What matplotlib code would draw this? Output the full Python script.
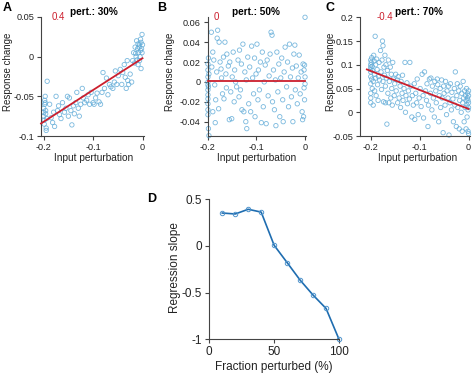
import numpy as np
import matplotlib
matplotlib.use('Agg')
from matplotlib import pyplot as plt

plt.rcParams['font.family'] = ['Liberation Sans', 'DejaVu Sans']
plt.rcParams['axes.unicode_minus'] = False

# panel A (30% perturbed)
a_x = [-0.2, -0.2, -0.2, -0.199, -0.199, -0.198, -0.198, -0.197, -0.197, -0.196, -0.196, -0.195, -0.195, -0.194,
       -0.193, -0.188, -0.185, -0.182, -0.18, -0.178, -0.175, -0.172, -0.17, -0.168, -0.165, -0.162,
       -0.158, -0.155, -0.152, -0.15, -0.148, -0.145, -0.143, -0.14, -0.138, -0.135, -0.133, -0.13, -0.128,
       -0.125, -0.122, -0.12, -0.117, -0.113, -0.11, -0.107, -0.104, -0.1,
       -0.098, -0.095, -0.092, -0.088, -0.085, -0.082, -0.08, -0.077, -0.073, -0.07,
       -0.067, -0.064, -0.06, -0.057, -0.055, -0.052, -0.049, -0.045, -0.042, -0.04,
       -0.037, -0.035, -0.033, -0.031, -0.03, -0.028, -0.025, -0.022, -0.02, -0.018,
       -0.015, -0.013, -0.012, -0.01, -0.009, -0.008, -0.007, -0.006, -0.005, -0.004, -0.003, -0.002,
       -0.001, 0.0, -0.003, -0.006, -0.011, -0.014, -0.016, -0.001, -0.004, -0.009]
a_y = [-0.065, -0.07, -0.075, -0.08, -0.085, -0.06, -0.055, -0.05, -0.058, -0.068, -0.072, -0.09, -0.093, -0.078,
       -0.031, -0.06, -0.077, -0.083, -0.07, -0.088, -0.05, -0.068, -0.062, -0.073, -0.078, -0.058,
       -0.07, -0.065, -0.05, -0.075, -0.052, -0.068, -0.086, -0.062, -0.072, -0.058, -0.045, -0.065, -0.075,
       -0.06, -0.04, -0.052, -0.058, -0.055, -0.048, -0.06, -0.045, -0.058,
       -0.06, -0.052, -0.046, -0.057, -0.06, -0.045, -0.02, -0.04, -0.027, -0.048,
       -0.035, -0.038, -0.04, -0.032, -0.018, -0.035, -0.024, -0.016, -0.035, -0.02,
       -0.01, -0.026, -0.04, -0.005, -0.03, -0.035, -0.022, -0.032, -0.005, 0.005,
       0.012, 0.0, 0.02, 0.01, -0.01, 0.005, 0.012, 0.015, 0.0, 0.008, 0.018, 0.01,
       0.028, 0.015, -0.015, -0.005, -0.004, 0.004, -0.008, 0.005, 0.022, 0.016]

# panel B (50% perturbed)
b_x = [-0.2, -0.2, -0.2, -0.2, -0.2, -0.2, -0.2, -0.2, -0.2, -0.2, -0.2, -0.199, -0.198, -0.199, -0.198, -0.199,
       -0.193, -0.19, -0.188, -0.192, -0.186, -0.19, -0.184, -0.181, -0.18, -0.182, -0.185,
       -0.177, -0.175, -0.173, -0.178, -0.172, -0.17, -0.168, -0.167, -0.165, -0.163, -0.162, -0.161,
       -0.158, -0.156, -0.155, -0.153, -0.151, -0.15, -0.148, -0.146, -0.145, -0.143, -0.141,
       -0.138, -0.136, -0.135, -0.133, -0.131, -0.13, -0.128, -0.126, -0.124, -0.122, -0.121, -0.12,
       -0.118, -0.116, -0.114, -0.112, -0.11, -0.108, -0.106, -0.104, -0.103, -0.101,
       -0.099, -0.097, -0.096, -0.094, -0.092, -0.09, -0.088, -0.086, -0.084, -0.082, -0.08,
       -0.078, -0.076, -0.074, -0.072, -0.07, -0.068, -0.067, -0.065, -0.063, -0.061, -0.06,
       -0.058, -0.056, -0.054, -0.052, -0.05, -0.048, -0.046, -0.045, -0.043, -0.041,
       -0.038, -0.036, -0.034, -0.032, -0.03, -0.028, -0.026, -0.025, -0.023, -0.021, -0.02,
       -0.018, -0.016, -0.014, -0.012, -0.01, -0.008, -0.006, -0.005, -0.004, -0.003, -0.002, -0.001,
       0.0, 0.0, -0.001, 0.0, -0.002]
b_y = [0.018, 0.012, 0.005, 0.0, -0.003, -0.008, -0.013, -0.017, -0.022, -0.028, -0.033, -0.047, -0.054, 0.024, 0.008, -0.005,
       0.05, 0.03, 0.022, 0.015, -0.003, -0.03, -0.018, 0.044, 0.052, 0.01, -0.041,
       0.04, 0.02, 0.013, -0.027, 0.004, -0.012, 0.025, -0.017, 0.04, 0.008, -0.006, 0.028,
       0.016, -0.038, 0.02, -0.01, -0.037, 0.005, 0.03, -0.02, 0.012, 0.0, -0.005,
       0.022, -0.015, 0.032, -0.008, 0.018, -0.028, 0.038, -0.03, 0.01, -0.04, 0.002, -0.047,
       0.025, -0.022, 0.015, -0.03, 0.036, 0.004, -0.012, 0.024, -0.035, 0.008,
       0.038, -0.018, 0.012, -0.008, 0.02, -0.041, 0.03, -0.025, 0.0, 0.017, -0.042,
       0.022, -0.014, 0.006, 0.028, 0.05, 0.047, -0.02, 0.012, -0.028, 0.002, -0.044,
       0.03, -0.01, 0.018, -0.035, 0.004, 0.024, -0.018, -0.04, 0.01, 0.035,
       -0.005, 0.02, -0.025, 0.038, 0.005, -0.015, 0.014, -0.04, 0.028, 0.037, -0.008,
       0.016, -0.022, 0.004, 0.027, -0.012, 0.01, -0.03, -0.038, 0.018, -0.035, 0.012, 0.017,
       0.065, -0.002, -0.018, 0.005, -0.006]

# panel C (70% perturbed)
c_x = [-0.2, -0.2, -0.2, -0.2, -0.2, -0.2, -0.2, -0.2, -0.2, -0.2, -0.199, -0.198, -0.198, -0.197, -0.197, -0.196,
       -0.195, -0.195, -0.194, -0.193, -0.192, -0.192, -0.191, -0.19, -0.19, -0.189, -0.188, -0.187, -0.186,
       -0.185, -0.184, -0.183, -0.182,
       -0.18, -0.179, -0.178, -0.177, -0.176, -0.175, -0.175, -0.174, -0.173, -0.172, -0.171, -0.17, -0.17,
       -0.169, -0.168, -0.167, -0.166, -0.165, -0.164, -0.163, -0.162, -0.16, -0.159, -0.158, -0.157, -0.156,
       -0.155, -0.154, -0.152, -0.151,
       -0.149, -0.148, -0.146, -0.145, -0.144, -0.142, -0.14, -0.139, -0.138, -0.136, -0.135, -0.134, -0.132,
       -0.13, -0.129, -0.128, -0.126, -0.125, -0.123, -0.121, -0.12,
       -0.118, -0.116, -0.115, -0.113, -0.111, -0.11, -0.108, -0.106, -0.105, -0.103, -0.101, -0.099, -0.097,
       -0.095, -0.093, -0.092, -0.09,
       -0.088, -0.086, -0.085, -0.083, -0.082, -0.08, -0.078, -0.077, -0.075, -0.074, -0.072, -0.07, -0.069,
       -0.067, -0.066, -0.064, -0.063, -0.061, -0.06,
       -0.058, -0.057, -0.055, -0.054, -0.052, -0.051, -0.05, -0.048, -0.047, -0.045, -0.044, -0.042, -0.041,
       -0.04, -0.038, -0.037, -0.035, -0.034, -0.032, -0.031,
       -0.029, -0.028, -0.027, -0.025, -0.024, -0.023, -0.022, -0.02, -0.019, -0.018, -0.017, -0.015, -0.014,
       -0.013, -0.012, -0.011, -0.01, -0.009, -0.008, -0.007, -0.006, -0.005, -0.005, -0.004, -0.003, -0.003,
       -0.002, -0.002, -0.001, -0.001, 0.0, 0.0, 0.0, 0.0, 0.0, -0.001]
c_y = [0.1, 0.095, 0.09, 0.085, 0.075, 0.06, 0.04, 0.03, 0.02, 0.11, 0.105, 0.115, 0.07, 0.05, 0.097, 0.088,
       0.015, 0.065, 0.12, 0.108, 0.08, 0.045, 0.16, 0.1, 0.072, 0.035, 0.112, 0.09, 0.058,
       0.025, 0.075, 0.105, 0.068,
       0.13, 0.085, 0.048, 0.11, 0.15, 0.14, 0.065, 0.022, 0.095, 0.078, 0.12, 0.055, 0.02,
       0.1, 0.072, -0.025, 0.088, 0.04, 0.11, 0.02, 0.065, 0.095, 0.03, 0.08, 0.05, 0.015,
       0.105, 0.07, 0.035, 0.06,
       0.08, 0.045, 0.068, 0.02, 0.075, 0.03, 0.055, 0.01, 0.065, 0.04, 0.078, 0.025, 0.05,
       0.105, 0.0, 0.035, 0.062, 0.018, 0.045, 0.028, 0.105,
       0.055, -0.01, 0.035, 0.015, 0.06, -0.015, 0.04, 0.02, 0.07, -0.005, 0.03, 0.05, 0.012,
       0.08, 0.035, -0.012, 0.085,
       0.045, 0.025, 0.06, -0.03, 0.015, 0.07, 0.04, 0.072, 0.005, 0.055, 0.03, -0.01, 0.065,
       0.045, 0.02, 0.07, 0.058, -0.02, 0.035,
       0.05, 0.01, 0.068, 0.03, -0.043, 0.055, 0.04, 0.015, 0.065, -0.005, 0.045, 0.03, 0.055,
       -0.048, 0.02, 0.06, 0.005, 0.042, 0.028, -0.02,
       0.05, 0.015, 0.085, -0.03, 0.035, 0.06, 0.01, 0.045, -0.035, 0.025, 0.055, 0.0, 0.04,
       -0.04, 0.02, 0.065, 0.03, -0.02, 0.045, 0.01, 0.035, -0.035, 0.025, 0.05, 0.015, -0.01,
       0.04, 0.03, 0.005, -0.04, 0.035, 0.02, -0.045, 0.045, 0.01, 0.025]

# regression lines: (slope, intercept, x start)
fits = [(0.4, -0.002, -0.2055), (0.0, 0.0005, -0.2), (-0.4, 0.007, -0.208)]
slope_labels = ['0.4', '0', '-0.4']
pert_labels = ['pert.: 30%', 'pert.: 50%', 'pert.: 70%']
panel_letters = ['A', 'B', 'C']

# panel D
frac = [10, 20, 30, 40, 50, 60, 70, 80, 90, 100]
slope = [0.35, 0.34, 0.39, 0.36, 0.005, -0.18, -0.367, -0.527, -0.67, -1.0]

W, H = 474, 375
fig = plt.figure(figsize=(W / 100, H / 100), dpi=100)


def px_axes(left, top, right, bottom):
    return fig.add_axes([left / W, 1 - bottom / H, (right - left) / W, (bottom - top) / H])


def px_text(x, y, s, **kw):
    # place text by pixel position (from top-left)
    fig.text(x / W, 1 - y / H, s, **kw)


def style(ax, fs):
    for s in ['top', 'right']:
        ax.spines[s].set_visible(False)
    for s in ['left', 'bottom']:
        ax.spines[s].set_color('#444444')
        ax.spines[s].set_linewidth(0.8)
    ax.tick_params(direction='out', length=3, width=0.8, color='#444444', labelsize=fs,
                   labelcolor='#222222', pad=2)


boxes = [(41, 17, 144, 136), (207.7, 16.7, 306, 136), (360, 17.3, 470, 136)]
xlims = [(-0.2055, 0.003), (-0.2005, 0.002), (-0.222, 0.003)]
ylims = [(-0.1, 0.05), (-0.0544, 0.0656), (-0.05, 0.2)]
yticks = [[-0.1, -0.05, 0, 0.05], [-0.04, -0.02, 0, 0.02, 0.04, 0.06], [-0.05, 0, 0.05, 0.1, 0.15, 0.2]]
yticklabels = [['-0.1', '-0.05', '0', '0.05'], ['-0.04', '-0.02', '0', '0.02', '0.04', '0.06'],
               ['-0.05', '0', '0.05', '0.1', '0.15', '0.2']]
data = [(a_x, a_y), (b_x, b_y), (c_x, c_y)]
letter_x = [3, 157, 326]
pert_x = [70, 232, 395]
red_x = [52, 214, 377]
ylabel_x = [8, 170, 331]
xlabel_x = [94, 257, 418]

for i in range(3):
    ax = px_axes(*boxes[i])
    style(ax, 6.6)
    xs, ys = data[i]
    ax.scatter(xs, ys, s=10, facecolors='none', edgecolors='#62acd8', linewidths=0.6, alpha=0.85,
               clip_on=False, zorder=2)
    k, b0, x0 = fits[i]
    lx = np.array([x0, 0.0])
    ax.plot(lx, k * lx + b0, color='#cc1f2d', lw=1.3, zorder=3, clip_on=False)
    ax.set_xlim(*xlims[i])
    ax.set_ylim(*ylims[i])
    ax.set_xticks([-0.2, -0.1, 0])
    ax.set_xticklabels(['-0.2', '-0.1', '0'])
    ax.set_yticks(yticks[i])
    ax.set_yticklabels(yticklabels[i])
    px_text(xlabel_x[i], 158, 'Input perturbation', fontsize=7.3, color='#222222', ha='center', va='center')
    px_text(ylabel_x[i], 72, 'Response change', fontsize=7.0, color='#222222', ha='center', va='center',
            rotation=90)
    px_text(letter_x[i], 8, panel_letters[i], fontsize=9, fontweight='bold', va='center')
    px_text(pert_x[i], 12, pert_labels[i], fontsize=7.2, fontweight='bold', va='center')
    px_text(red_x[i], 17, slope_labels[i], fontsize=7, color='#cc1f2d', va='center')

axd = px_axes(209.3, 199, 339, 339.3)
style(axd, 8.5)
axd.plot(frac, slope, color='#1f6db0', lw=1.2, marker='o', markersize=3.2, markerfacecolor='none',
         markeredgecolor='#4f94cc', markeredgewidth=0.7, clip_on=False)
axd.set_xlim(0, 100)
axd.set_ylim(-1, 0.5)
axd.set_xticks([0, 50, 100])
axd.set_yticks([-1, -0.5, 0, 0.5])
axd.set_yticklabels(['-1', '-0.5', '0', '0.5'])
px_text(274, 367, 'Fraction perturbed (%)', fontsize=8.5, color='#222222', ha='center', va='center')
px_text(175, 268, 'Regression slope', fontsize=8.5, color='#222222', ha='center', va='center', rotation=90)
px_text(147, 199, 'D', fontsize=9, fontweight='bold', va='center')

fig.savefig('out.png', dpi=100)
